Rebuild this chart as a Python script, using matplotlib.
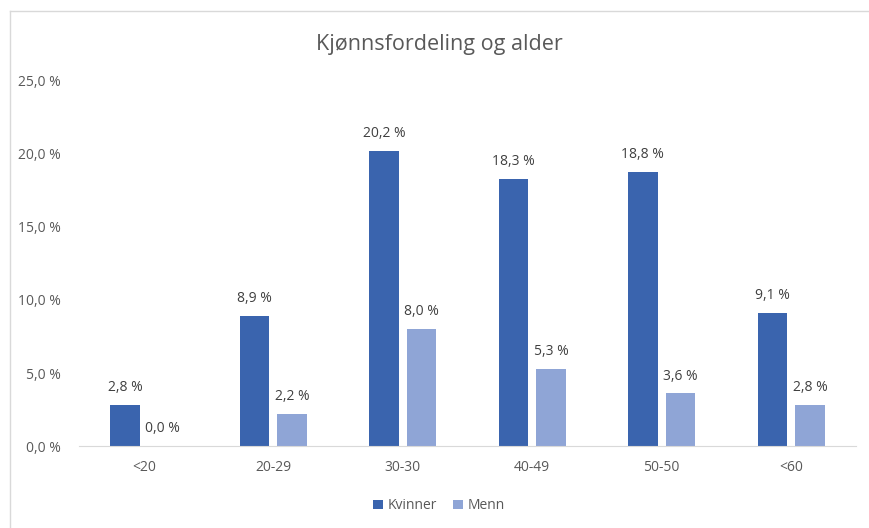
import numpy as np
import matplotlib
matplotlib.use('Agg')
import matplotlib.pyplot as plt
from matplotlib.lines import Line2D

# Data
categories = ['<20', '20-29', '30-30', '40-49', '50-50', '<60']
kvinner = [2.8, 8.9, 20.2, 18.3, 18.8, 9.1]
menn = [0.0, 2.2, 8.0, 5.3, 3.6, 2.8]
series_names = ['Kvinner', 'Menn']
yticks = [0, 5, 10, 15, 20, 25]

plt.rcParams['font.family'] = ['Open Sans', 'DejaVu Sans']
text_color = '#595959'
c_kv = '#3A64AE'
c_me = '#8FA5D6'

fig = plt.figure(figsize=(8.69, 5.28), dpi=100)
ax = fig.add_axes([0.0909, 0.1553, 0.894, 0.6913])

x = np.arange(len(categories))
w = 0.227
off = 0.145
b1 = ax.bar(x - off, kvinner, w, color=c_kv, label=series_names[0])
b2 = ax.bar(x + off, menn, w, color=c_me, label=series_names[1])

def fmt(v):
    return f'{v:.1f} %'.replace('.', ',')

for bars in (b1, b2):
    for r in bars:
        h = r.get_height()
        ax.annotate(fmt(h), (r.get_x() + r.get_width() / 2, h),
                    xytext=(0, 7), textcoords='offset points',
                    ha='center', va='bottom', fontsize=10, color='#404040')

ax.set_xlim(-0.5, len(categories) - 0.5)
ax.set_ylim(0, 25)
ax.set_yticks(yticks)
ax.set_yticklabels([fmt(t) for t in yticks])
ax.set_xticks(x)
ax.set_xticklabels(categories)
ax.tick_params(axis='both', length=0, labelsize=10, colors=text_color)
ax.tick_params(axis='y', pad=13)
ax.tick_params(axis='x', pad=10)
for s in ['top', 'right', 'left']:
    ax.spines[s].set_visible(False)
ax.spines['bottom'].set_color('#d9d9d9')

fig.text(0.506, 0.916, 'Kjønnsfordeling og alder', ha='center', va='center',
         fontsize=15.5, color=text_color)

fig.legend(handles=[b1, b2], loc='center', bbox_to_anchor=(0.505, 0.042),
           ncol=2, frameon=False, fontsize=10, labelcolor=text_color,
           handlelength=0.7, handleheight=0.7, handletextpad=0.3, columnspacing=1.2)

# chart border (only top and left visible in the crop)
fig.add_artist(Line2D([10 / 869, 1], [1 - 11 / 528, 1 - 11 / 528],
                      transform=fig.transFigure, color='#d9d9d9', lw=1))
fig.add_artist(Line2D([10 / 869, 10 / 869], [0, 1 - 11 / 528],
                      transform=fig.transFigure, color='#d9d9d9', lw=1))

fig.savefig('out.png', dpi=100)
